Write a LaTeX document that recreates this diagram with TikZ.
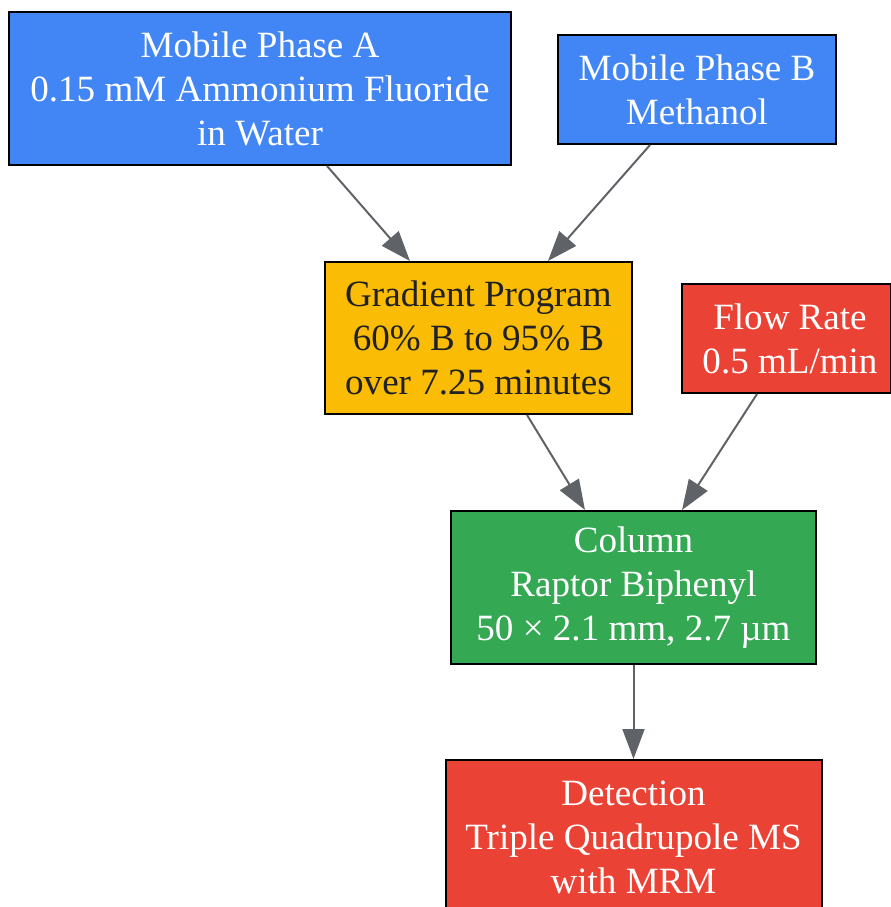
\documentclass[tikz,border=0pt]{standalone}
\usepackage{fontspec}
\setmainfont{Liberation Serif}
\usepackage{xcolor}
\usetikzlibrary{arrows.meta}

\definecolor{gblue}{HTML}{4285F4}
\definecolor{gyellow}{HTML}{FBBC05}
\definecolor{gred}{HTML}{EA4335}
\definecolor{ggreen}{HTML}{34A853}
\definecolor{edgegray}{HTML}{5F6368}
\definecolor{darktext}{HTML}{202124}

\begin{document}
\begin{tikzpicture}[x=0.75pt, y=-0.75pt,
	box/.style={draw=black, line width=1.5pt, inner sep=0pt, align=center,
		font=\fontsize{27.8}{33}\selectfont},
	flow/.style={draw=edgegray, line width=1.5pt,
		-{Triangle[length=22.5pt,width=16.5pt]}}]

\useasboundingbox (0,0) rectangle (891,907);

\node[box,fill=gblue,text=white,minimum width=376.5pt,minimum height=114.75pt] (phaseA) at (260,88.5)
	{Mobile Phase A\\0.15 mM Ammonium Fluoride\\in Water};
\node[box,fill=gblue,text=white,minimum width=208.5pt,minimum height=81.75pt] (phaseB) at (697,89.5)
	{Mobile Phase B\\Methanol};
\node[box,fill=gyellow,text=darktext,minimum width=230.25pt,minimum height=114pt] (gradient) at (478.5,338)
	{Gradient Program\\60\% B to 95\% B\\over 7.25 minutes};
\node[box,fill=gred,text=white,minimum width=156.75pt,minimum height=81.75pt] (rate) at (786,338.5)
	{\hspace*{6pt}Flow Rate\\\hspace*{6pt}0.5 mL/min};
\node[box,fill=ggreen,text=white,minimum width=273.75pt,minimum height=114.75pt] (column) at (633.5,587.5)
	{Column\\Raptor Biphenyl\\50 × 2.1 mm, 2.7 µm};
\node[box,fill=gred,text=white,minimum width=282pt,minimum height=115.5pt] (detect) at (633.5,837)
	{Detection\\Triple Quadrupole MS\\with MRM};

\draw[flow] ([xshift=50.25pt]phaseA.south) -- ([xshift=-51.4pt]gradient.north);
\draw[flow] ([xshift=-35.25pt]phaseB.south) -- ([xshift=52.1pt]gradient.north);
\draw[flow] ([xshift=36.4pt]gradient.south) -- ([xshift=-36.4pt]column.north);
\draw[flow] ([xshift=-21.75pt]rate.south) -- ([xshift=36.4pt]column.north);
\draw[flow] (column.south) -- (detect.north);

\end{tikzpicture}
\end{document}
